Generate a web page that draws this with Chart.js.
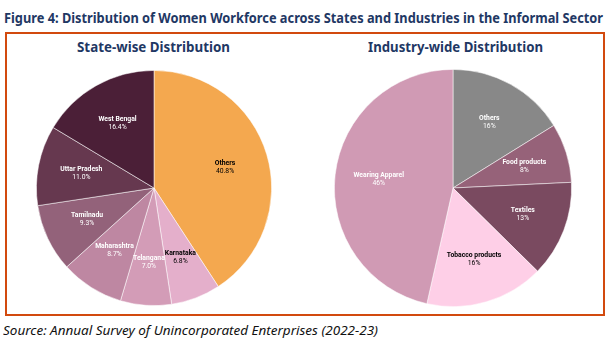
<!DOCTYPE html>
<html><head><meta charset="utf-8">
<script src="https://cdn.jsdelivr.net/npm/chart.js@4"></script>
<style>
html,body{margin:0;padding:0;background:#fff;width:607px;height:344px;overflow:hidden;}
.t{position:absolute;white-space:nowrap;transform-origin:0 50%;}
#title{left:4px;top:8px;font:bold 14px "Noto Sans",sans-serif;color:#1F3864;}
.sub{top:38px;font:bold 13.5px "Noto Sans",sans-serif;color:#1F3864;}
#src{left:3px;top:321px;font:italic 13px "Noto Sans",sans-serif;color:#111;}
#box{position:absolute;left:5px;top:32px;width:596px;height:280px;border:2px solid #D24A0E;}
canvas{position:absolute;}
</style></head><body>
<div id="box"></div>
<div class="t" id="title">Figure 4: Distribution of Women Workforce across States and Industries in the Informal Sector</div>
<div class="t sub" id="sub1">State-wise Distribution</div>
<div class="t sub" id="sub2">Industry-wide Distribution</div>
<div class="t" id="src">Source: Annual Survey of Unincorporated Enterprises (2022-23)</div>
<div style="position:absolute;left:30px;top:64px;width:248px;height:248px"><canvas id="c1"></canvas></div>
<div style="position:absolute;left:329px;top:64px;width:248px;height:248px"><canvas id="c2"></canvas></div>
<script>
const stateLabels = ["Others","Karnataka","Telangana","Maharashtra","Tamilnadu","Uttar Pradesh","West Bengal"];
const stateValues = [40.8, 6.8, 7.0, 8.7, 9.3, 11.0, 16.4];
const stateColors = ["#F4A84F","#E4AFCB","#D39CB7","#BE87A2","#93627A","#66384F","#4B1F37"];
const stateTextColors = ["#000","#000","#fff","#fff","#fff","#fff","#fff"];

const industryLabels = ["Others","Food products","Textiles","Tobacco products","Wearing Apparel"];
const industryValues = [16, 8, 13, 16, 46];
const industryColors = ["#888888","#966279","#7A4A60","#FECFE7","#D09AB4"];
const industryTextColors = ["#fff","#fff","#fff","#000","#fff"];

function fit(id, left, width, center){
  const el = document.getElementById(id);
  const w = el.getBoundingClientRect().width;
  const s = width / w;
  el.style.transform = 'scaleX(' + s + ')';
  el.style.left = (center ? left - width/2 : left) + 'px';
}
fit('title', 4, 599, false);
fit('sub1', 153.5, 153, true);
fit('sub2', 455, 175, true);
fit('src', 3, 375, false);

const labelPlugin = {
  id: 'sliceLabels',
  afterDatasetsDraw(chart, args, opts){
    const ctx = chart.ctx;
    const meta = chart.getDatasetMeta(0);
    const ds = chart.data.datasets[0];
    meta.data.forEach((arc, i) => {
      const p = arc.getProps(['x','y','startAngle','endAngle','outerRadius'], true);
      const a = (p.startAngle + p.endAngle) / 2;
      const r = p.outerRadius * 0.63;
      const x = p.x + Math.cos(a) * r;
      const y = p.y + Math.sin(a) * r;
      ctx.save();
      ctx.textAlign = 'center';
      ctx.textBaseline = 'middle';
      ctx.fillStyle = opts.colors[i];
      ctx.font = 'bold 6.8px Roboto, sans-serif';
      ctx.fillText(chart.data.labels[i], x, y - 4);
      ctx.font = '6.8px Roboto, sans-serif';
      ctx.fillText(opts.fmt(ds.data[i]) + '%', x, y + 4);
      ctx.restore();
    });
  }
};

function makePie(id, labels, values, colors, textColors, pad, fmt){
  new Chart(document.getElementById(id), {
    type: 'pie',
    data: { labels: labels, datasets: [{ data: values, backgroundColor: colors, borderColor: 'rgba(255,255,255,0.65)', borderWidth: 0.8 }] },
    options: {
      responsive: true, maintainAspectRatio: false, animation: false,
      layout: { padding: pad },
      plugins: { legend: { display: false }, tooltip: { enabled: false },
        sliceLabels: { colors: textColors, fmt: fmt } }
    },
    plugins: [labelPlugin]
  });
}
makePie('c1', stateLabels, stateValues, stateColors, stateTextColors, 6, v => v.toFixed(1));
makePie('c2', industryLabels, industryValues, industryColors, industryTextColors, 5, v => String(v));
</script>
</body></html>
